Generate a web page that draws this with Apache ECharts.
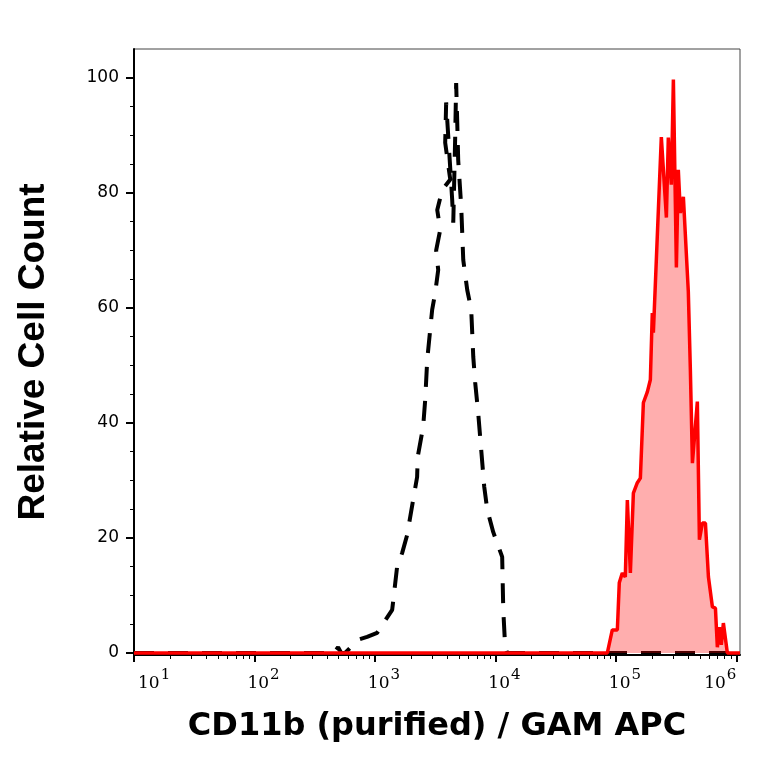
<!DOCTYPE html>
<html lang="en">
<head>
	<meta charset="UTF-8">
	<title>CD11b histogram</title>
	<script src="https://cdn.jsdelivr.net/npm/echarts@6/dist/echarts.min.js"></script>
	<style>
		html, body { margin: 0; padding: 0; background: #fff; }
	</style>
</head>
<body>
	<div id="histChart" style="width: 764px; height: 764px;"></div>
	<script type="text/javascript">
		// x in log10 units (1 = 10^1 ... 6 = 10^6), y = relative cell count
		const decades = [1, 2, 3, 4, 5, 6];
		const yTicks = [0, 20, 40, 60, 80, 100];
		const yMinorTicks = [5, 10, 15, 25, 30, 35, 45, 50, 55, 65, 70, 75, 85, 90, 95];

		// isotype control (black dashed)
		const controlLog = [1, 2.66, 2.694, 2.72, 2.752, 2.86, 2.935, 3.018, 3.143, 3.184, 3.226, 3.267,
			3.317, 3.35, 3.355, 3.40, 3.417, 3.434, 3.475, 3.50, 3.525, 3.508, 3.542, 3.517, 3.558,
			3.625, 3.583, 3.591, 3.641, 3.65, 3.666, 3.674, 3.683, 3.691, 3.716, 3.733, 3.766,
			3.799, 3.816, 3.832, 3.857, 3.882, 3.907, 3.932, 3.982, 4.056, 4.065, 4.081, 4.098, 6.03];
		const controlCount = [0, 0, 1.0, 0, 0, 2.3, 2.8, 3.5, 7.5, 15, 17.4, 20.5,
			26.6, 30.6, 34.1, 39.3, 44, 51, 59.7, 62.6, 66.6, 70, 73.6, 77, 80.5,
			82.3, 88.7, 95.7, 78.8, 74.8, 89.7, 99.1, 92.2, 85.7, 77.6, 68.3, 63.1,
			59.7, 51.5, 47, 41.7, 35.3, 28.9, 24.9, 21, 16.7, 7.5, 1, 0, 0];

		// CD11b stained sample (red filled)
		const sampleLog = [1, 4.929, 4.97, 5.012, 5.028, 5.053, 5.078, 5.095, 5.12, 5.145, 5.178, 5.203,
			5.228, 5.261, 5.286, 5.302, 5.311, 5.377, 5.419, 5.435, 5.46, 5.477, 5.502, 5.518,
			5.535, 5.56, 5.601, 5.618, 5.635, 5.676, 5.693, 5.718, 5.743, 5.768, 5.801, 5.826,
			5.842, 5.859, 5.875, 5.892, 5.925, 6.03];
		const sampleCount = [0, 0, 4.0, 4.0, 12.2, 13.9, 13.2, 26.6, 13.9, 27.8, 29.6, 30.4,
			43.5, 45.4, 47.5, 59.1, 55.7, 89.7, 75.7, 89.6, 81.4, 99.7, 67.0, 84.0,
			76.5, 79.3, 62.8, 49.2, 33.0, 43.7, 19.7, 22.6, 22.6, 13.2, 8.0, 7.8,
			1.0, 4.5, 1.4, 5.2, 0, 0];

		const minorX = [];
		decades.forEach(function (d) {
			if (d === 6) return;
			for (let k = 2; k <= 9; k++) minorX.push(d + Math.log10(k));
		});

		const pair = (xs, ys) => xs.map((x, i) => [x, ys[i]]);

		const histChart = echarts.init(document.getElementById('histChart'));
		histChart.setOption({
			animation: false,
			grid: {
				left: 134, right: 24, top: 49, bottom: 109,
				show: true, borderColor: '#444', borderWidth: 1
			},
			xAxis: [{
				type: 'value', position: 'bottom', min: 1, max: 6.03,
				name: 'CD11b (purified) / GAM APC',
				nameLocation: 'middle', nameGap: 56,
				nameTextStyle: { fontFamily: 'DejaVu Sans', fontWeight: 'bold', fontSize: 32, color: '#000' },
				axisLine: { onZero: false, lineStyle: { color: '#000', width: 2 } },
				axisTick: { customValues: decades, length: 7, lineStyle: { color: '#000', width: 2 } },
				splitLine: { show: false },
				axisLabel: {
					customValues: decades, margin: 13,
					showMinLabel: true, showMaxLabel: true,
					alignMinLabel: 'left', alignMaxLabel: 'right',
					formatter: function (v) {
						const gap = (v === 1 || v === 6) ? '{h|}' : '{g|}';
						return gap + '{b|10}{s|' + v + '}';
					},
					rich: {
						g: { width: 18 },
						h: { width: 4 },
						b: { fontFamily: 'DejaVu Serif', fontSize: 17, color: '#000' },
						s: { fontFamily: 'DejaVu Serif', fontSize: 15, color: '#000', padding: [0, 0, 17, 1] }
					}
				}
			}, {
				type: 'value', position: 'bottom', min: 1, max: 6.03,
				axisLine: { show: false, onZero: false },
				axisTick: { customValues: minorX, length: 4, lineStyle: { color: '#000', width: 1 } },
				axisLabel: { show: false },
				splitLine: { show: false }
			}],
			yAxis: [{
				type: 'value', position: 'left', min: -0.35, max: 105,
				name: 'Relative Cell Count',
				nameLocation: 'middle', nameGap: 82,
				nameTextStyle: { fontFamily: 'Liberation Sans', fontWeight: 'bold', fontSize: 37, color: '#000' },
				axisLine: { show: true, onZero: false, lineStyle: { color: '#000', width: 2 } },
				axisTick: { show: true, customValues: yTicks, length: 8, lineStyle: { color: '#000', width: 2 } },
				splitLine: { show: false },
				axisLabel: {
					customValues: yTicks, margin: 15,
					fontFamily: 'DejaVu Sans', fontSize: 17, color: '#000'
				}
			}, {
				type: 'value', position: 'left', min: -0.35, max: 105,
				axisLine: { show: false, onZero: false },
				axisTick: { show: true, customValues: yMinorTicks, length: 4, lineStyle: { color: '#000', width: 1 } },
				axisLabel: { show: false },
				splitLine: { show: false }
			}],
			series: [{
				name: 'control',
				type: 'line',
				showSymbol: false,
				data: pair(controlLog, controlCount),
				lineStyle: { color: '#000', width: 4, type: [20, 14] },
				z: 2
			}, {
				name: 'CD11b',
				type: 'line',
				showSymbol: false,
				data: pair(sampleLog, sampleCount),
				lineStyle: { color: '#ff0000', width: 3.5 },
				areaStyle: { color: 'rgba(255, 0, 0, 0.45)', origin: 0 },
				z: 3
			}]
		});
	</script>
</body>
</html>
